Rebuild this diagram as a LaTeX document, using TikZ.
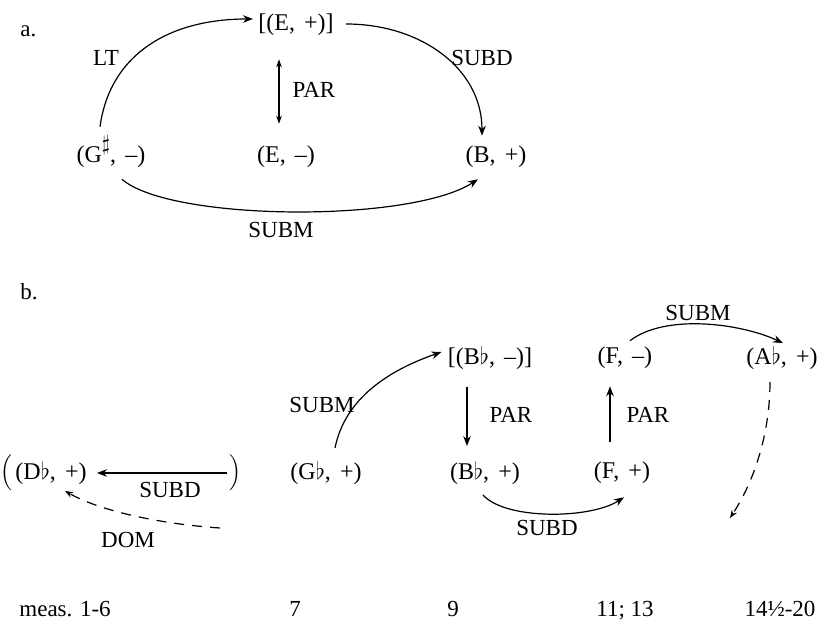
\documentclass[tikz,border=0pt]{standalone}
\usepackage{fontspec}
\setmainfont{Liberation Serif}
\usetikzlibrary{arrows.meta}
\tikzset{
  key/.style={inner sep=1pt, font=\fontsize{12}{14}\selectfont},
  lbl/.style={inner sep=1pt, font=\fontsize{11.5}{13}\selectfont},
  arrow/.style={-{Stealth[length=5pt,width=3.8pt]}, line width=0.6pt},
  biarrow/.style={{Stealth[length=4pt,width=2.8pt]}-{Stealth[length=4pt,width=2.8pt]}, line width=0.6pt},
  dasharrow/.style={-{Stealth[length=4pt,width=3pt]}, line width=0.6pt, dash pattern=on 5pt off 4pt}
}
\newcommand{\shp}{\raisebox{0.5em}[0pt][0pt]{\scalebox{0.9}{$\sharp$}}}
\newcommand{\csp}{,\hspace{0.38em}}

\begin{document}
\begin{tikzpicture}[x=0.5pt, y=-0.5pt]
  \useasboundingbox (0,0) rectangle (821,625);

  % a.
  \node[lbl, anchor=base west] (la) at (18,37) {a.};
  \node[key] (gs) at (111,157) {(G\shp\csp–)};
  \node[key] (ep) at (296,25) {[(E\csp+)]};
  \node[key] (em) at (286,157) {(E\csp–)};
  \node[key] (bp) at (496,157) {(B\csp+)};

  \draw[arrow] ([shift={(-11,-17)}]gs.north) .. controls +(10,-73) and +(-83,0) .. ([shift={(-3,-6)}]ep.west);
  \draw[arrow] ([shift={(10,-1)}]ep.east) .. controls +(75,0) and +(0,-67) .. ([shift={(-14,-8)}]bp.north);
  \draw[biarrow] ([shift={(-17,21)}]ep.south) -- ([shift={(-7,-20)}]em.north);
  \draw[arrow] ([shift={(11,9)}]gs.south) .. controls +(48,42) and +(-68,44) .. ([shift={(-18,9)}]bp.south);

  \node[lbl] (lt) at (106,58) {LT};
  \node[lbl] (subda) at (482,58) {SUBD};
  \node[lbl] (para) at (314,90) {PAR};
  \node[lbl] (subma) at (281,230) {SUBM};

  % b.
  \node[lbl, anchor=base west] (lb) at (18,300) {b.};
  \node[key] (db) at (51,473) {(D$\flat$\csp+)};
  \node[key] (lpar) at (6,473) {$\Big($};
  \node[key] (rpar) at (235,473) {$\Big)$};
  \node[key] (gb) at (326,473) {(G$\flat$\csp+)};
  \node[key] (bbm) at (490,358) {[(B$\flat$\csp–)]};
  \node[key] (bbp) at (485,473) {(B$\flat$\csp+)};
  \node[key] (fm) at (625,358) {(F\csp–)};
  \node[key] (fp) at (622,473) {(F\csp+)};
  \node[key] (ab) at (782,358) {(A$\flat$\csp+)};
  \coordinate (domstart) at (220,528);
  \coordinate (abend) at (730,518);

  \draw[arrow, shorten >=4pt] (rpar) -- (db);
  \draw[dasharrow] (domstart) .. controls +(-60,-4) and +(35,20) .. ([shift={(14,4)}]db.south);
  \draw[arrow] ([shift={(9,-11)}]gb.north) .. controls +(10,-50) and +(-52,18) .. ([shift={(-4,-6)}]bbm.west);
  \draw[arrow] ([shift={(-23,15)}]bbm.south) -- ([shift={(-18,-13)}]bbp.north);
  \draw[arrow] ([shift={(-12,-18)}]fp.north) -- ([shift={(-15,15)}]fm.south);
  \draw[arrow] ([shift={(-2,8)}]bbp.south) .. controls +(22,25) and +(-34,22) .. ([shift={(2,11)}]fp.south);
  \draw[arrow] ([shift={(5,-4)}]fm.north) .. controls +(35,-27) and +(-43,-20) .. ([shift={(1,-1)}]ab.north);
  \draw[dasharrow] ([shift={(-12,10)}]ab.south) .. controls +(0,50) and +(25,-38) .. (abend);

  \node[lbl] (subdl) at (170,490) {SUBD};
  \node[lbl] (dom) at (128,540) {DOM};
  \node[lbl] (submb) at (322,405) {SUBM};
  \node[lbl] (parl) at (511,415) {PAR};
  \node[lbl] (parr) at (648,415) {PAR};
  \node[lbl] (subdr) at (547,528) {SUBD};
  \node[lbl] (submr) at (698,313) {SUBM};

  \node[lbl, anchor=base west] (m1) at (17,617) {meas. 1-6};
  \node[lbl, anchor=base] (m7) at (295,617) {7};
  \node[lbl, anchor=base] (m9) at (453,617) {9};
  \node[lbl, anchor=base] (m11) at (625,617) {11; 13};
  \node[lbl, anchor=base] (m14) at (780,617) {14½-20};
\end{tikzpicture}
\end{document}
